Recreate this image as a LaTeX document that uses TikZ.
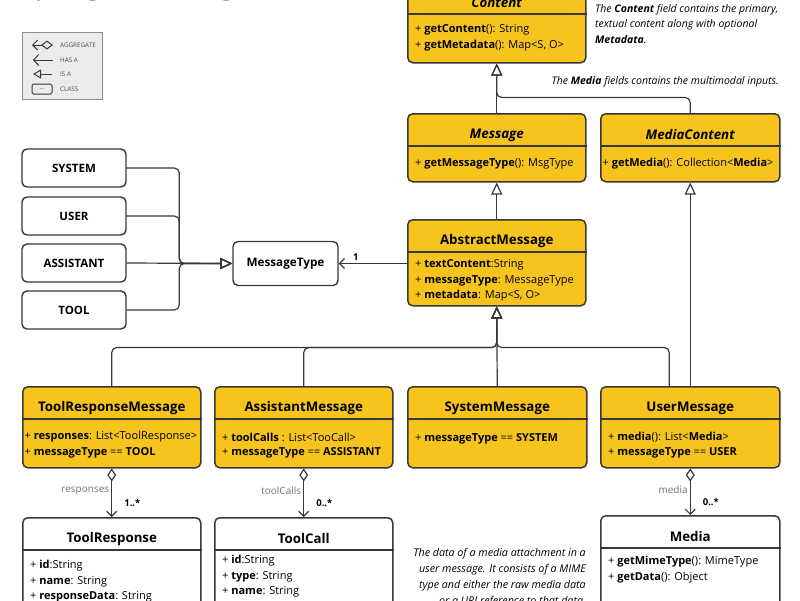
\documentclass[tikz,border=0pt]{standalone}
\usepackage{fontspec}
\setmainfont{Open Sans}
\usetikzlibrary{arrows.meta,calc}
\definecolor{msgyellow}{RGB}{246,196,28}
\definecolor{umlline}{RGB}{58,56,52}

\newcommand{\umlclass}[9]{
	\node[#6, minimum width=#4pt, minimum height=#5pt, anchor=north west] (#1) at (#2,#3) {};
	\node[clsname] (#1-name) at ($(#1.north)+(0,22)$) {#7};
	\draw[clsline] ($(#1.north west)+(0,33)$) -- ($(#1.north east)+(0,33)$);
	\foreach \fld [count=\k] in {#8}
		\node[clsfield] (#1-f\k) at ($(#1.north west)+(\fldx,{#9+15.5*(\k-1)})$) {\fld};
}

\begin{document}
\begin{tikzpicture}[x=1pt, y=-1pt,
	yelbox/.style={draw=umlline, line width=1.5pt, fill=msgyellow, rounded corners=5pt},
	whtbox/.style={draw=umlline, line width=1.5pt, fill=white, rounded corners=5pt},
	enumbox/.style={draw=umlline, line width=1.4pt, fill=white, rounded corners=5pt, minimum width=104pt, minimum height=38pt, font=\bfseries\fontsize{11.5}{13}\selectfont},
	clsname/.style={inner sep=0pt, font=\bfseries\fontsize{13.3}{15}\selectfont},
	clsfield/.style={anchor=west, inner sep=0pt, font=\fontsize{11}{13}\selectfont},
	clsline/.style={draw=umlline, line width=1.3pt},
	isa/.style={draw=umlline, line width=1.2pt, -{Triangle[open, length=12pt, width=11pt]}},
	hasa/.style={draw=umlline, line width=1.2pt, -{Straight Barb[length=5pt, width=10pt]}},
	aggr/.style={draw=umlline, line width=1.2pt, {Diamond[open, length=13pt, width=9pt]}-{Straight Barb[length=5pt, width=10pt]}},
	note/.style={inner sep=0pt, font=\itshape\fontsize{10.5}{15.5}\selectfont},
	rolelbl/.style={inner sep=2pt, font=\fontsize{10}{11}\selectfont, text=black!55},
	multlbl/.style={inner sep=2pt, font=\bfseries\fontsize{9.5}{11}\selectfont}]
\useasboundingbox (0,0) rectangle (800,600);

\node[anchor=base west, inner sep=0pt, font=\fontsize{27}{30}\selectfont, text=black!80] (title) at (20,-6) {Spring AI Message API};

% legend
\node[draw=black!45, fill=black!8, line width=0.8pt, minimum width=80pt, minimum height=67pt, anchor=north west] (legend) at (22,32) {};
\foreach \lbl/\yy [count=\i] in {AGGREGATE/45, HAS A/60, IS A/74, CLASS/89}
	\node[anchor=west, inner sep=0pt, font=\fontsize{6.3}{7}\selectfont, text=black!70] (leg\i) at (60,\yy) {\lbl};
\coordinate (legA1) at (53,45); \coordinate (legA0) at (32,45);
\coordinate (legB1) at (53,60); \coordinate (legB0) at (33,60);
\coordinate (legC1) at (52,74); \coordinate (legC0) at (33,74);
\draw[draw=umlline, line width=1pt, {Diamond[open, length=12pt, width=9pt]}-{Straight Barb[length=5pt, width=10pt]}] (legA1) -- (legA0);
\draw[draw=umlline, line width=1pt, -{Straight Barb[length=5pt, width=11pt]}] (legB1) -- (legB0);
\draw[draw=umlline, line width=1pt, -{Triangle[open, length=8pt, width=9pt]}] (legC1) -- (legC0);
\node[draw=umlline, line width=1pt, rounded corners=1.5pt, minimum width=20pt, minimum height=10pt, inner sep=0pt, font=\fontsize{5}{5}\selectfont] (legcls) at (42,89) {...};

% classes
\pgfmathsetmacro{\fldx}{8}
\umlclass{content}{407}{-19}{178}{81}{yelbox}{\textit{Content}}{{+ \textbf{getContent}(): String},{+ \textbf{getMetadata}(): Map<S, O>}}{49}
\umlclass{message}{407}{113}{178}{68}{yelbox}{\textit{Message}}{{+ \textbf{getMessageType}(): MsgType}}{51}
\umlclass{abstract}{407}{219}{178}{86}{yelbox}{AbstractMessage}{{+ \textbf{textContent}:String},{+ \textbf{messageType}: MessageType},{+ \textbf{metadata}: Map<S, O>}}{46}
\umlclass{assistmsg}{214}{386}{178}{81}{yelbox}{AssistantMessage}{{+ \textbf{toolCalls} : List<TooCall>},{+ \textbf{messageType} == \textbf{ASSISTANT}}}{51}
\umlclass{systemmsg}{407}{386}{179}{81}{yelbox}{SystemMessage}{{+ \textbf{messageType} == \textbf{SYSTEM}}}{53}
\umlclass{usermsg}{600}{386}{179}{81}{yelbox}{UserMessage}{{+ \textbf{media}(): List<\textbf{Media}>},{+ \textbf{messageType} == \textbf{USER}}}{51}
\umlclass{toolresp}{22}{517}{178}{120}{whtbox}{ToolResponse}{{+ \textbf{id}:String},{+ \textbf{name}: String},{+ \textbf{responseData}: String}}{49}
\umlclass{toolcall}{214}{517}{178}{120}{whtbox}{ToolCall}{{+ \textbf{id}:String},{+ \textbf{type}: String},{+ \textbf{name}: String}}{44}
\umlclass{media}{600}{515}{179}{120}{whtbox}{Media}{{+ \textbf{getMimeType}(): MimeType},{+ \textbf{getData}(): Object}}{47}
\pgfmathsetmacro{\fldx}{2.5} %too wide
\umlclass{mediacontent}{600}{113}{179}{68}{yelbox}{\textit{MediaContent}}{{+ \textbf{getMedia}(): Collection<\textbf{Media}>}}{51}
\umlclass{toolrespmsg}{22}{386}{178}{81}{yelbox}{ToolResponseMessage}{{+ \textbf{responses}: List<ToolResponse>},{+ \textbf{messageType} == \textbf{TOOL}}}{51}

% enum values
\node[draw=umlline, line width=1.4pt, fill=white, rounded corners=5pt, minimum width=105pt, minimum height=44pt, font=\bfseries\fontsize{11.7}{13}\selectfont] (msgtype) at (285.5,263.5) {MessageType};
\foreach \nm/\lbl/\yy in {sys/SYSTEM/168, usr/USER/216, asst/ASSISTANT/263, tool/TOOL/310}
	\node[enumbox] (\nm) at (74,\yy) {\lbl};

% notes
\node[note, anchor=north west, align=left] (contentnote) at (595,4) {The \textbf{Content} field contains the primary,\\textual content along with optional\\\textbf{Metadata}.};
\node[note, anchor=east] (medianote) at (779,82) {The \textbf{Media} fields contains the multimodal inputs.};
\node[note, anchor=north east, align=right, font=\itshape\fontsize{10.7}{16}\selectfont] (datanote) at (586,548) {The data of a media attachment in a\\user message. It consists of a MIME\\type and either the raw media data\\or a URI reference to that data.};

% connectors
\coordinate (contentjoin) at ($(content.south)+(0,34)$);
\draw[isa] (message.north) -- (content.south);
\draw[isa, rounded corners=5pt] (mediacontent.north) |- (contentjoin) -- (content.south);
\draw[isa] (abstract.north) -- (message.south);
\draw[isa] (usermsg.north) -- (mediacontent.south);

\coordinate (treejoin) at ($(abstract.south)+(0,41)$);
\coordinate (userin) at ($(usermsg.north)+(-21,0)$);
\draw[isa] (systemmsg.north) -- (abstract.south);
\draw[isa, rounded corners=5pt] (toolrespmsg.north) |- (treejoin) -- (abstract.south);
\draw[isa, rounded corners=5pt] (assistmsg.north) |- (treejoin) -- (abstract.south);
\draw[isa, rounded corners=5pt] (userin) |- (treejoin) -- (abstract.south);

\coordinate (bus) at ($(msgtype.west)+(-53,0)$);
\foreach \nm in {sys,usr,tool}
	\draw[isa, rounded corners=5pt] (\nm.east) -| (bus) -- (msgtype.west);
\draw[isa] (asst.east) -- (msgtype.west);
\draw[hasa] (abstract.west |- msgtype.east) -- (msgtype.east) node[pos=0.75, above, multlbl] (onelbl) {1};

\draw[aggr] (toolrespmsg.south) -- (toolresp.north) node[pos=0.46, left, rolelbl] (resplbl) {responses} node[pos=0.72, right, xshift=10pt, multlbl] (respmul) {1..*};
\draw[aggr] (assistmsg.south) -- (toolcall.north) node[pos=0.46, left, rolelbl] (calllbl) {toolCalls} node[pos=0.72, right, xshift=10pt, multlbl] (callmul) {0..*};
\draw[aggr] (usermsg.south) -- (media.north) node[pos=0.46, left, rolelbl] (medialbl) {media} node[pos=0.72, right, xshift=10pt, multlbl] (mediamul) {0..*};
\end{tikzpicture}
\end{document}
